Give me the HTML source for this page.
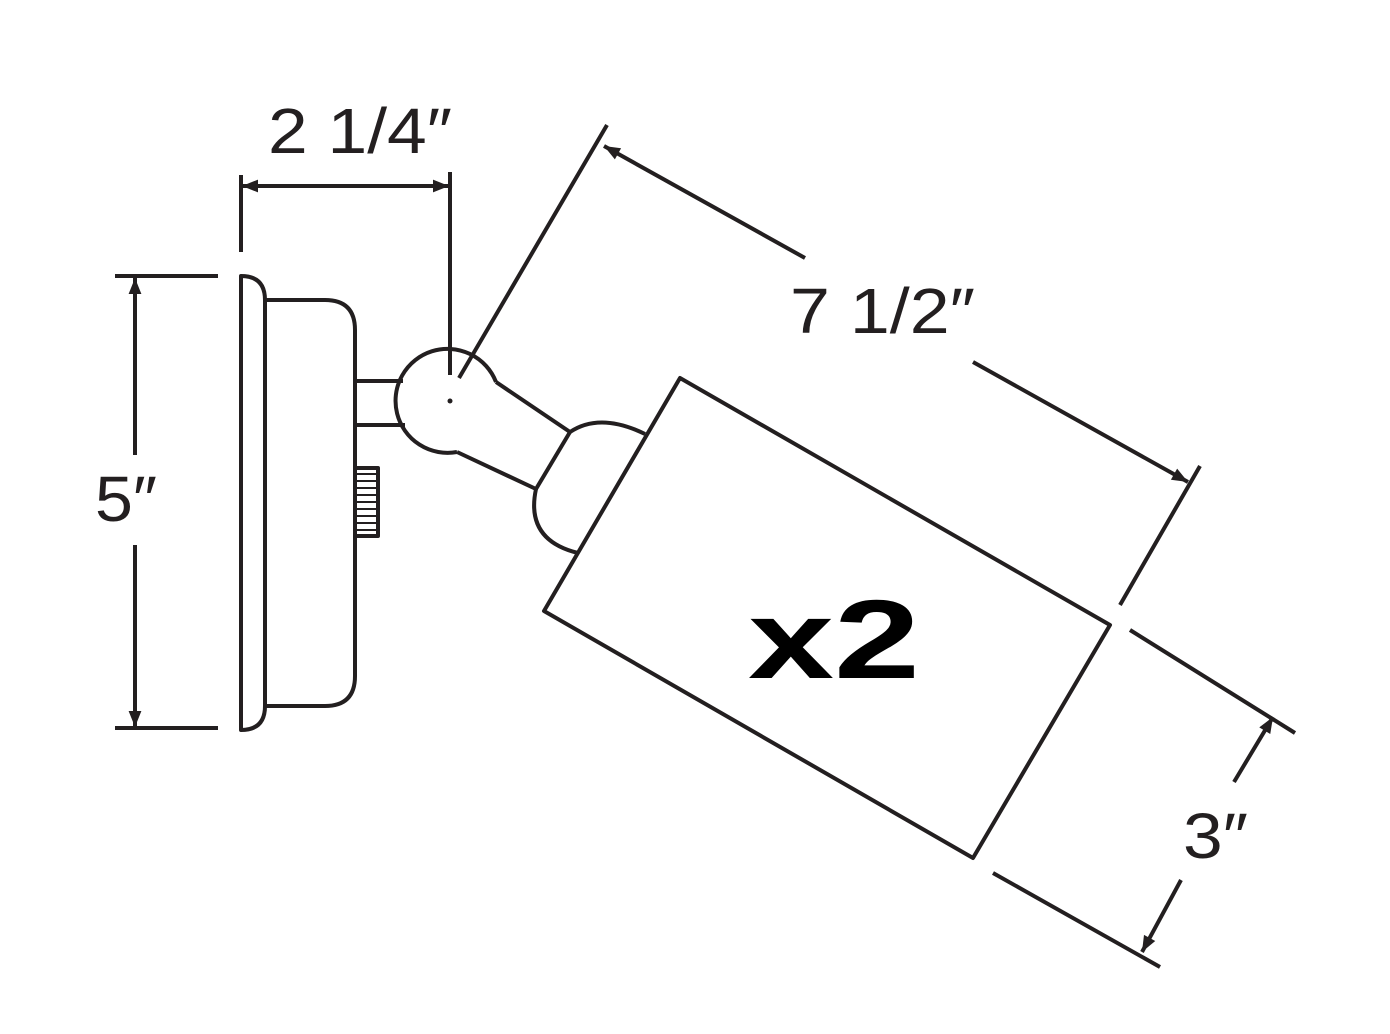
<!DOCTYPE html>
<html><head><meta charset="utf-8"><style>html,body{margin:0;padding:0;background:#fff}svg{display:block}</style></head>
<body>
<svg width="1390" height="1034" viewBox="0 0 1390 1034" xmlns="http://www.w3.org/2000/svg">
<defs>
<marker id="a" viewBox="0 0 10 10" refX="10" refY="5" markerWidth="7" markerHeight="4" orient="auto-start-reverse" markerUnits="strokeWidth"><path d="M0,1 L10,5 L0,9 Z" fill="#231f20"/></marker>
</defs>
<g fill="none" stroke="#231f20" stroke-width="4" stroke-linejoin="round">
<!-- backplate -->
<path d="M241,276 L241,730 Q265,730 265,706 L265,300 Q265,276 241,276 Z"/>
<path d="M265,300 L325,300 Q355,300 355,330 L355,676 Q355,706 325,706 L265,706"/>
<!-- knob -->
<rect x="355" y="468" width="23" height="68" fill="#fff"/>
<g stroke-width="2">
<line x1="355" y1="474" x2="377" y2="474"/><line x1="355" y1="481" x2="377" y2="481"/><line x1="355" y1="488" x2="377" y2="488"/><line x1="355" y1="495" x2="377" y2="495"/><line x1="355" y1="502" x2="377" y2="502"/><line x1="355" y1="509" x2="377" y2="509"/><line x1="355" y1="516" x2="377" y2="516"/><line x1="355" y1="523" x2="377" y2="523"/><line x1="355" y1="530" x2="377" y2="530"/>
</g>
<!-- stem -->
<line x1="355" y1="381" x2="403" y2="381"/>
<line x1="355" y1="425" x2="405" y2="425"/>
<!-- knuckle -->
<path d="M496,382 A52,52 0 1 0 457,452"/>
<line x1="496" y1="382" x2="570" y2="432"/>
<line x1="457" y1="452" x2="536" y2="489"/>
<path d="M570,432 Q600,412 645,434"/>
<path d="M536,489 Q525,540 578,553"/>
<line x1="570" y1="432" x2="536" y2="489"/>
<!-- cylinder -->
<path d="M680,378 L1110,625 L973,858 L544,611 Z"/>
<!-- 2 1/4 -->
<line x1="241" y1="175" x2="241" y2="252"/>
<line x1="450" y1="172" x2="450" y2="375"/>
<line x1="242" y1="186" x2="449" y2="186" marker-start="url(#a)" marker-end="url(#a)"/>
<!-- 5 -->
<line x1="115" y1="276" x2="218" y2="276"/>
<line x1="115" y1="728" x2="218" y2="728"/>
<line x1="135" y1="278" x2="135" y2="455" marker-start="url(#a)"/>
<line x1="135" y1="545" x2="135" y2="727" marker-end="url(#a)"/>
<!-- 7 1/2 -->
<line x1="459" y1="378" x2="607" y2="125"/>
<line x1="1120" y1="605" x2="1200" y2="466"/>
<line x1="805" y1="258" x2="604" y2="146" marker-end="url(#a)"/>
<line x1="973" y1="362" x2="1188" y2="482" marker-end="url(#a)"/>
<!-- 3 -->
<line x1="1130" y1="630" x2="1295" y2="733"/>
<line x1="993" y1="873" x2="1160" y2="967"/>
<line x1="1234" y1="782" x2="1273" y2="717" marker-end="url(#a)"/>
<line x1="1181" y1="880" x2="1142" y2="952" marker-end="url(#a)"/>
</g>
<circle cx="450" cy="401" r="2.5" fill="#231f20"/>
<g fill="#231f20" font-family="Liberation Sans, sans-serif" font-size="64">
<text x="268" y="153" textLength="184" lengthAdjust="spacingAndGlyphs">2 1/4″</text>
<text x="95" y="521" textLength="62" lengthAdjust="spacingAndGlyphs">5″</text>
<text x="790" y="333" textLength="185" lengthAdjust="spacingAndGlyphs">7 1/2″</text>
<text x="1183" y="858" textLength="65" lengthAdjust="spacingAndGlyphs">3″</text>
</g>
<text x="748" y="678" font-family="Liberation Sans, sans-serif" font-weight="bold" font-size="112" fill="#000" textLength="172" lengthAdjust="spacingAndGlyphs">x2</text>
</svg>
</body></html>
